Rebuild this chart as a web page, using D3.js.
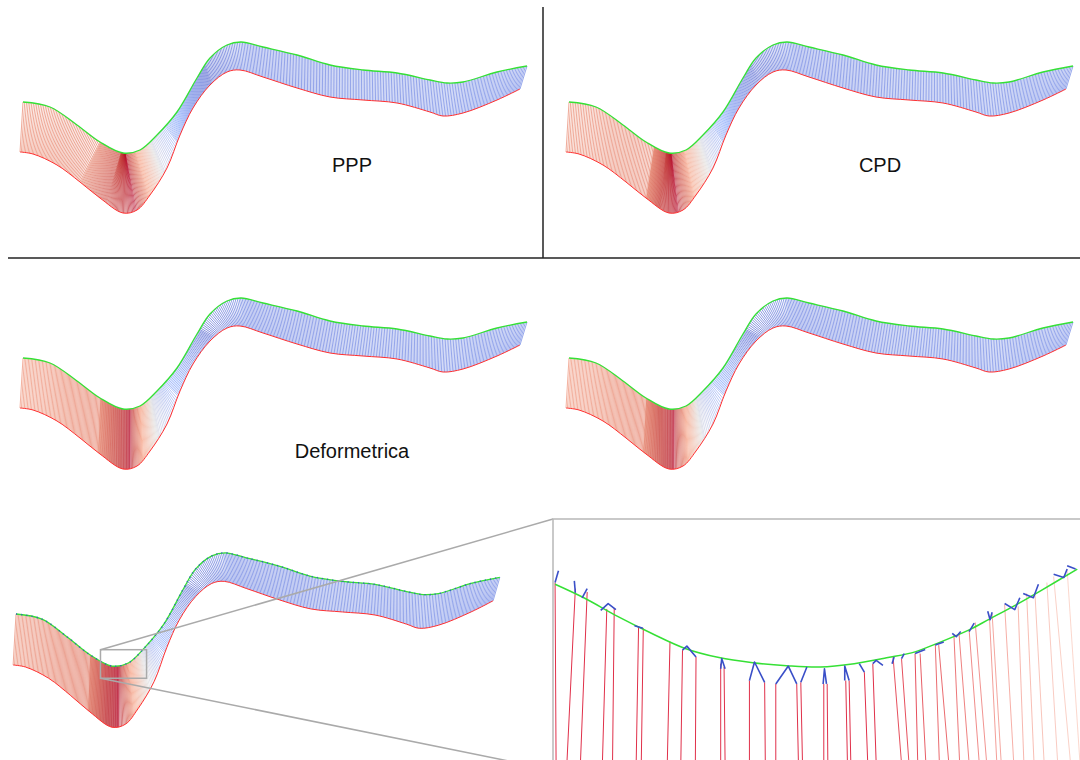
<!DOCTYPE html>
<html><head><meta charset="utf-8">
<script src="https://cdn.jsdelivr.net/npm/d3@7"></script>
<style>html,body{margin:0;padding:0;background:#fff;} svg{display:block;}</style>
</head><body>
<svg id="chart" width="1080" height="760"></svg>
<script>
// ---------------- DATA ----------------
// target (top, green) and source (bottom, red) curves, in panel-1 units
const topCurve = [[23,102],[50,107],[77,125],[100,142],[123,153],[140,150],[157,135],[177,112],[197,78],[210,58],[227,45],[241,42],[263,47],[297,55],[330,65],[363,70],[397,73],[430,80],[447,83],[463,82],[497,72],[527,66]];
const bottomCurve = [[20,152],[33,154],[57,165],[80,182],[100,198],[123,213],[137,210],[150,195],[167,168],[180,135],[193,108],[210,85],[227,72],[240,70],[263,77],[297,88],[330,97],[363,100],[397,103],[430,112],[443,116],[463,113],[497,100],[520,89]];

// correspondence stops per method: [share of links, top x, bottom x, colour value]
const stopsPPP = [[0.00,23,20,0.8],[0.12,100,80,0.82],[0.19,121,106,0.92],[0.25,125,136,1.0],[0.28,135,148,0.78],[0.33,152,165,0.45],[0.36,165,177,0.3],[0.50,205,212,0.05],[0.56,240,243,0.13],[1.00,527,520,0.15]];
const stopsCPD = [[0.00,23,20,0.8],[0.14,108,100,0.82],[0.20,120,114,0.94],[0.25,125,132,1.0],[0.29,138,148,0.75],[0.34,155,166,0.45],[0.37,166,177,0.3],[0.50,205,214,0.05],[0.56,240,244,0.13],[1.00,527,520,0.15]];
const stopsDeformetrica = [[0.00,23,20,0.78],[0.15,100,98,0.82],[0.22,118,118,0.94],[0.26,130,130,1.0],[0.29,140,143,0.75],[0.33,152,160,0.45],[0.37,165,178,0.28],[0.50,200,214,0.05],[0.56,238,245,0.13],[1.00,527,520,0.15]];
const stopsFourth = [[0.00,23,20,0.78],[0.15,100,97,0.82],[0.22,116,116,0.94],[0.26,128,128,1.0],[0.29,139,142,0.75],[0.33,151,159,0.45],[0.37,165,178,0.28],[0.50,200,214,0.05],[0.56,238,245,0.13],[1.00,527,520,0.15]];
const stopsFifth = [[0.00,23,20,0.8],[0.15,100,98,0.84],[0.22,117,116,0.96],[0.27,130,130,1.0],[0.30,140,145,0.78],[0.34,153,162,0.5],[0.38,165,178,0.28],[0.50,200,214,0.05],[0.56,238,245,0.13],[1.00,527,520,0.15]];

const labels = ["PPP","CPD","Deformetrica","",""];
const lineCount = 420;

const colorDomain = [0,0.25,0.5,0.75,1];
const colorRange = ["#3b4cc0","#7b9ff9","#dddcdc","#f49a7b","#b40426"];

// zoom box in panel-5 units
const zoomBox = [[111,137],[159,165]];

// inset (detail) data in inset units
const insetCurve = [[15,205],[100,245],[200,300],[300,350],[400,395],[500,422],[600,437],[700,446],[800,450],[900,440],[1000,422],[1080,405],[1140,382],[1240,340],[1300,308],[1380,265],[1450,225],[1560,160]];
// [top x, top y, bottom x, strength]
const insetLinks = [[15,200,18,1],[75,218,50,1],[110,228,90,1],[168,278,155,1],[190,275,185,1],[262,332,255,1],[276,335,270,1],[355,375,347,1],[392,400,387,1],[432,420,430,1],[505,440,505,1],[515,450,518,1],[590,490,590,1],[635,495,637,1],[668,500,668,1],[730,500,735,1],[742,495,747,1],[810,500,810,1],[820,500,822,1],[875,490,880,1],[885,490,890,1],[930,465,940,1],[955,440,965,1],[1015,420,1040,0.9],[1040,425,1062,0.9],[1080,410,1088,0.9],[1095,410,1112,0.85],[1140,385,1152,0.8],[1150,385,1180,0.8],[1195,355,1212,0.75],[1210,350,1240,0.7],[1240,340,1270,0.65],[1258,318,1292,0.6],[1300,300,1322,0.55],[1308,292,1335,0.5],[1345,265,1372,0.45],[1385,270,1402,0.4],[1410,232,1432,0.35],[1435,236,1462,0.3],[1470,200,1502,0.25],[1490,182,1540,0.2],[1530,162,1568,0.15]];
const insetMarks = [[[15,200],[25,165]],[[75,230],[72,195]],[[95,245],[110,218]],[[150,282],[172,262],[195,280]],[[250,328],[275,335]],[[392,400],[405,388],[432,420]],[[505,455],[508,425],[518,455]],[[590,490],[605,435],[635,495]],[[668,500],[705,447],[730,500]],[[742,495],[760,450]],[[808,500],[812,455],[818,500]],[[872,490],[872,447],[885,490]],[[915,440],[930,465]],[[955,440],[965,430],[985,445]],[[1012,440],[1018,420]],[[1040,425],[1048,410]],[[1080,410],[1110,398]],[[1140,385],[1165,376]],[[1190,350],[1202,360],[1215,345]],[[1240,345],[1255,320]],[[1295,285],[1302,310],[1308,288]],[[1345,262],[1375,280],[1390,245]],[[1400,232],[1430,245],[1445,205]],[[1490,175],[1520,185],[1530,160]],[[1530,150],[1555,160]]];

// ---------------- LAYOUT ----------------
const panels = [
  {stops: stopsPPP, ox:0, oy:0, sx:1, sy:1, lx:352, ly:172},
  {stops: stopsCPD, ox:546, oy:0, sx:1, sy:1, lx:880, ly:172},
  {stops: stopsDeformetrica, ox:0, oy:256, sx:1, sy:1, lx:352, ly:458},
  {stops: stopsFourth, ox:546, oy:256, sx:1, sy:1, lx:0, ly:0},
  {stops: stopsFifth, ox:16-23*0.96, oy:614-102*1.02, sx:0.96, sy:1.02, lx:0, ly:0, dotted:true, box:true}
];

const svg = d3.select("#chart");
const color = d3.scaleLinear().domain(colorDomain).range(colorRange).interpolate(d3.interpolateLab);
const smooth = d3.line().curve(d3.curveCatmullRom.alpha(0.5));

function sampler(pts){
  const p = svg.append("path").attr("d", smooth(pts)).attr("fill","none");
  const node = p.node(); const L = node.getTotalLength(); const M = 2000;
  const s = d3.range(M+1).map(i => { const q = node.getPointAtLength(L*i/M); return [q.x,q.y]; });
  p.remove();
  const bis = d3.bisector(d => d[0]).left;
  return {
    lenAtX(x){ const i = Math.min(M, bis(s, x)); return L*i/M; },
    at(l){ const f = Math.max(0, Math.min(M, l/L*M)); const i = Math.floor(f), j = Math.min(M, i+1), t = f-i;
      return [s[i][0]+(s[j][0]-s[i][0])*t, s[i][1]+(s[j][1]-s[i][1])*t]; }
  };
}
const topS = sampler(topCurve), botS = sampler(bottomCurve);

panels.forEach((cfg, k) => {
  const x = d3.scaleLinear().domain([0,540]).range([cfg.ox, cfg.ox+540*cfg.sx]);
  const y = d3.scaleLinear().domain([0,260]).range([cfg.oy, cfg.oy+260*cfg.sy]);
  const g = svg.append("g");
  const st = cfg.stops;
  const uDom = st.map(s => s[0]);
  const lt = d3.scaleLinear().domain(uDom).range(st.map(s => topS.lenAtX(s[1])));
  const lb = d3.scaleLinear().domain(uDom).range(st.map(s => botS.lenAtX(s[2])));
  const cv = d3.scaleLinear().domain(uDom).range(st.map(s => s[3]));
  const links = d3.range(lineCount).map(i => { const u = i/(lineCount-1); return {a: topS.at(lt(u)), b: botS.at(lb(u)), c: cv(u)}; });
  g.append("g").selectAll("line").data(links).join("line")
    .attr("x1", d => x(d.a[0])).attr("y1", d => y(d.a[1]))
    .attr("x2", d => x(d.b[0])).attr("y2", d => y(d.b[1]))
    .attr("stroke", d => color(d.c)).attr("stroke-width", 0.75).attr("stroke-opacity", 0.9);
  const line = d3.line().x(d => x(d[0])).y(d => y(d[1])).curve(d3.curveCatmullRom.alpha(0.5));
  g.append("path").attr("d", line(bottomCurve)).attr("fill","none").attr("stroke","#ff3030").attr("stroke-width",1);
  g.append("path").attr("d", line(topCurve)).attr("fill","none").attr("stroke","#35e035").attr("stroke-width",1.3);
  if (cfg.dotted) {
    g.append("path").attr("d", line(topCurve)).attr("fill","none").attr("stroke","#3050c8")
      .attr("stroke-width",1.6).attr("stroke-dasharray","1.2,4").attr("stroke-opacity",0.8);
  }
  if (labels[k]) {
    svg.append("text").attr("x", cfg.lx).attr("y", cfg.ly).attr("text-anchor","middle")
      .attr("font-family","'Liberation Sans', Arial, Helvetica, sans-serif").attr("font-size",20).attr("fill","#111").text(labels[k]);
  }
  if (cfg.box) {
    const bx0 = x(zoomBox[0][0]), by0 = y(zoomBox[0][1]), bx1 = x(zoomBox[1][0]), by1 = y(zoomBox[1][1]);
    svg.append("rect").attr("x",bx0).attr("y",by0).attr("width",bx1-bx0).attr("height",by1-by0)
      .attr("fill","none").attr("stroke","#aaa").attr("stroke-width",1.5);
    svg.append("line").attr("x1",bx0).attr("y1",by0).attr("x2",553).attr("y2",519).attr("stroke","#aaa").attr("stroke-width",1.5);
    svg.append("line").attr("x1",bx0).attr("y1",by1).attr("x2",553).attr("y2",770).attr("stroke","#aaa").attr("stroke-width",1.5);
  }
});

// ---------------- INSET ----------------
const ix = d3.scaleLinear().domain([0,1568]).range([550,1080]);
const iy = d3.scaleLinear().domain([0,725]).range([515,760]);
const inset = svg.append("g");
inset.append("rect").attr("x",553).attr("y",519).attr("width",527).attr("height",241).attr("fill","#fff");
inset.selectAll("line.lk").data(insetLinks).join("line").attr("class","lk")
  .attr("x1", d => ix(d[0])).attr("y1", d => iy(d[1]))
  .attr("x2", d => ix(d[2])).attr("y2", iy(735))
  .attr("stroke", d => d3.interpolateLab("#f7c0a8", "#e0304a")(d[3]))
  .attr("stroke-width", 1).attr("stroke-opacity", d => 0.4 + 0.6*d[3]);
const iline = d3.line().x(d => ix(d[0])).y(d => iy(d[1])).curve(d3.curveCatmullRom.alpha(0.5));
inset.append("path").attr("d", iline(insetCurve)).attr("fill","none").attr("stroke","#35e035").attr("stroke-width",1.5);
inset.selectAll("path.mk").data(insetMarks).join("path").attr("class","mk")
  .attr("d", d => d3.line().x(p => ix(p[0])).y(p => iy(p[1]))(d))
  .attr("fill","none").attr("stroke","#3a4fc8").attr("stroke-width",1.6).attr("stroke-linejoin","round");
inset.append("path").attr("d","M553,760 L553,519 L1080,519").attr("fill","none").attr("stroke","#b8b8b8").attr("stroke-width",1.5);

// ---------------- SEPARATORS ----------------
svg.append("line").attr("x1",543).attr("y1",7).attr("x2",543).attr("y2",258).attr("stroke","#222").attr("stroke-width",1.5);
svg.append("line").attr("x1",8).attr("y1",258).attr("x2",1080).attr("y2",258).attr("stroke","#222").attr("stroke-width",1.5);
</script>
</body></html>
